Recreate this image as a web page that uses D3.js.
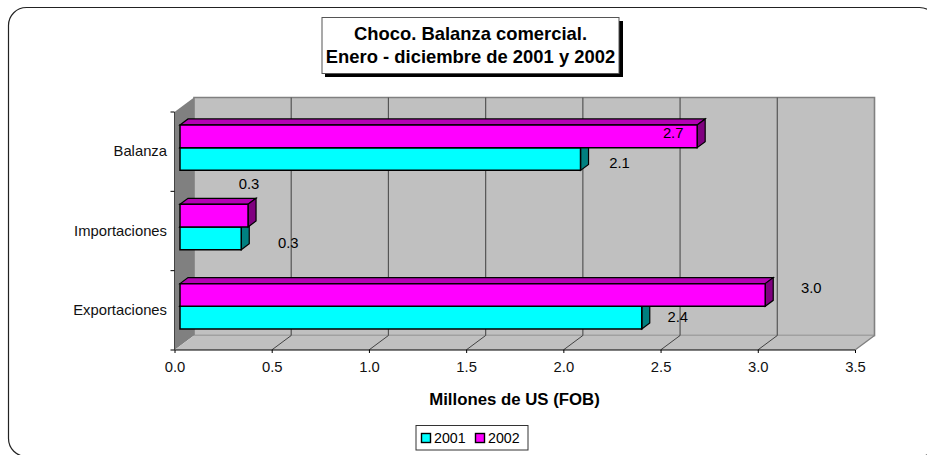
<!DOCTYPE html>
<html>
<head>
  <meta charset="UTF-8" />
  <title>Choco. Balanza comercial</title>
  <script src="https://d3js.org/d3.v7.min.js"></script>
  <style>
    html, body { margin: 0; padding: 0; background: #ffffff; overflow: hidden; }
    svg { display: block; }
    text { font-family: "Liberation Sans", Arial, sans-serif; fill: #000; }
    .axis text { font-size: 14.8px; fill: #111; }
    .axis path { display: none; }
  </style>
</head>
<body>
<div id="chart"></div>
<script>
// data, top to bottom as in the picture
var categories = ["Balanza", "Importaciones", "Exportaciones"];
var seriesNames = ["2001", "2002"];
var values2001 = [2.06, 0.315, 2.375];
var values2002 = [2.66, 0.35, 3.01];
var xTicks = [0, 0.5, 1, 1.5, 2, 2.5, 3, 3.5];
var titleLines = ["Choco. Balanza comercial.", "Enero - diciembre de 2001 y 2002"];
var xTitle = "Millones de US (FOB)";

var w = 927, h = 455;
// front, side, top face
var colors = { "2001": ["#00ffff", "#008080", "#00b4b4"], "2002": ["#ff00ff", "#800080", "#b400b4"] };

// plot box, front plane of the floor
var x = d3.scaleLinear().domain([0, 3.5]).range([174.5, 855]);
var y = d3.scaleBand().domain(categories).range([112, 350]);
var depthX = 19.5, depthY = 14.5;   // wall depth
var barDX = 8, barDY = 6;           // bar depth
var offX = 5.5, offY = 4;           // bars sit a bit behind the front plane
var barH = 22.7;
var inner = d3.scaleBand().domain(["2002", "2001"]).range([-barH, barH]);

// hand-moved data labels in the original: [dx from bar end, dy from bar centre]
var labelNudge = {
  "2001": [[39, 4], [47, 4], [36, -1]],
  "2002": [[-24, -3], [1, -32], [46, -7]]
};

var svg = d3.select("#chart").append("svg").attr("width", w).attr("height", h);

function poly(parent, pts, fill, stroke, sw) {
  return parent.append("polygon")
    .attr("points", pts.map(function(p) { return p.join(","); }).join(" "))
    .attr("fill", fill)
    .attr("stroke", stroke || "none")
    .attr("stroke-width", sw || 0)
    .attr("stroke-linejoin", "miter");
}

// outer frame
svg.append("rect")
  .attr("x", 8.5).attr("y", 7.5)
  .attr("width", 929).attr("height", 449)
  .attr("rx", 18).attr("ry", 18)
  .attr("fill", "#fff").attr("stroke", "#222").attr("stroke-width", 1.2);

var x0 = x.range()[0], x1 = x.range()[1];
var yTop = y.range()[0], yBot = y.range()[1];

// walls and floor
var walls = svg.append("g");
poly(walls, [[x0 + depthX, yTop - depthY], [x1 + depthX, yTop - depthY], [x1 + depthX, yBot - depthY], [x0 + depthX, yBot - depthY]], "#c0c0c0", "#808080", 1.6);
poly(walls, [[x0, yTop], [x0 + depthX, yTop - depthY], [x0 + depthX, yBot - depthY], [x0, yBot]], "#808080");
poly(walls, [[x0, yBot], [x0 + depthX, yBot - depthY], [x1 + depthX, yBot - depthY], [x1, yBot]], "#c0c0c0");
walls.append("line")
  .attr("x1", x1).attr("y1", yBot).attr("x2", x1 + depthX).attr("y2", yBot - depthY)
  .attr("stroke", "#808080").attr("stroke-width", 1.4);

// gridlines on the back wall, and the little run across the floor
walls.selectAll(".grid").data(xTicks.slice(1, -1)).enter().append("line")
  .attr("class", "grid")
  .attr("x1", function(d) { return x(d) + depthX; })
  .attr("x2", function(d) { return x(d) + depthX; })
  .attr("y1", yTop - depthY).attr("y2", yBot - depthY)
  .attr("stroke", "#555").attr("stroke-width", 1.2);
walls.selectAll(".floorLine").data(xTicks.slice(1, -1)).enter().append("line")
  .attr("class", "floorLine")
  .attr("x1", function(d) { return x(d); })
  .attr("x2", function(d) { return x(d) + depthX; })
  .attr("y1", yBot).attr("y2", yBot - depthY)
  .attr("stroke", "#222").attr("stroke-width", 0.8);

// axes
var gx = svg.append("g").attr("class", "axis").attr("transform", "translate(0," + yBot + ")")
  .call(d3.axisBottom(x).tickValues(xTicks).tickFormat(d3.format(".1f")).tickSize(3).tickPadding(8.6));
gx.selectAll("line").attr("stroke", "#000");
svg.append("line").attr("x1", x0).attr("x2", x1).attr("y1", yBot).attr("y2", yBot).attr("stroke", "#000").attr("stroke-width", 1.2);
svg.append("line").attr("x1", x0).attr("x2", x0).attr("y1", yTop).attr("y2", yBot).attr("stroke", "#444").attr("stroke-width", 1);

var gy = svg.append("g").attr("class", "axis").attr("transform", "translate(" + x0 + ",0)")
  .call(d3.axisLeft(y).tickSize(0).tickPadding(7.5));
// tick marks sit between the categories
svg.selectAll(".catTick").data(categories.concat("end")).enter().append("line")
  .attr("class", "catTick")
  .attr("x1", x0 - 4).attr("x2", x0)
  .attr("y1", function(d, i) { return yTop + i * y.step(); })
  .attr("y2", function(d, i) { return yTop + i * y.step(); })
  .attr("stroke", "#000");

// bars, 2001 first so the 2002 front covers its top face
var barRows = [["2001", values2001], ["2002", values2002]];
var bars = svg.append("g");
barRows.forEach(function(row) {
  var name = row[0], vals = row[1];
  vals.forEach(function(v, i) {
    var cy = y(categories[i]) + y.bandwidth() / 2 - offY;
    var top = cy + inner(name), bot = top + inner.bandwidth();
    var l = x(0) + offX, r = x(v) + offX;
    // top face, side face, front face
    poly(bars, [[l, top], [l + barDX, top - barDY], [r + barDX, top - barDY], [r, top]], colors[name][2], "#000", 1.2);
    poly(bars, [[r, top], [r + barDX, top - barDY], [r + barDX, bot - barDY], [r, bot]], colors[name][1], "#000", 1.2);
    poly(bars, [[l, top], [r, top], [r, bot], [l, bot]], colors[name][0], "#000", 1.5);
  });
});

// data labels
barRows.forEach(function(row) {
  var name = row[0], vals = row[1];
  svg.append("g").selectAll("text").data(vals).enter().append("text")
    .attr("x", function(d, i) { return x(d) + offX + labelNudge[name][i][0]; })
    .attr("y", function(d, i) { return y(categories[i]) + y.bandwidth() / 2 - offY + inner(name) + inner.bandwidth() / 2 + labelNudge[name][i][1]; })
    .attr("dy", "0.35em")
    .attr("text-anchor", "middle")
    .attr("font-size", 14.8)
    .attr("fill", "#111")
    .text(function(d) { return d3.format(".1f")(d); });
});

// title box with hard shadow
svg.append("rect").attr("x", 325).attr("y", 21).attr("width", 298).attr("height", 56).attr("fill", "#000");
svg.append("rect").attr("x", 322).attr("y", 17.5).attr("width", 297).attr("height", 56)
  .attr("fill", "#fff").attr("stroke", "#555").attr("stroke-width", 1);
svg.selectAll(".title").data(titleLines).enter().append("text")
  .attr("class", "title")
  .attr("x", 470.5)
  .attr("y", function(d, i) { return 40 + i * 22.7; })
  .attr("text-anchor", "middle")
  .attr("font-size", 18.4).attr("font-weight", "bold")
  .text(function(d) { return d; });

// x axis title
svg.append("text").attr("x", 514.5).attr("y", 405).attr("text-anchor", "middle")
  .attr("font-size", 16.8).attr("font-weight", "bold").text(xTitle);

// legend
var legend = svg.append("g");
legend.append("rect").attr("x", 416).attr("y", 425.5).attr("width", 112).attr("height", 24.5)
  .attr("fill", "#fff").attr("stroke", "#333").attr("stroke-width", 1);
var legendX = d3.scalePoint().domain(seriesNames).range([421.5, 475.5]);
seriesNames.forEach(function(name) {
  legend.append("rect").attr("x", legendX(name)).attr("y", 433.5).attr("width", 9).attr("height", 9)
    .attr("fill", colors[name][0]).attr("stroke", "#000").attr("stroke-width", 1.4);
  legend.append("text").attr("x", legendX(name) + 12.5).attr("y", 443)
    .attr("font-size", 14.2).text(name);
});
</script>
</body>
</html>
